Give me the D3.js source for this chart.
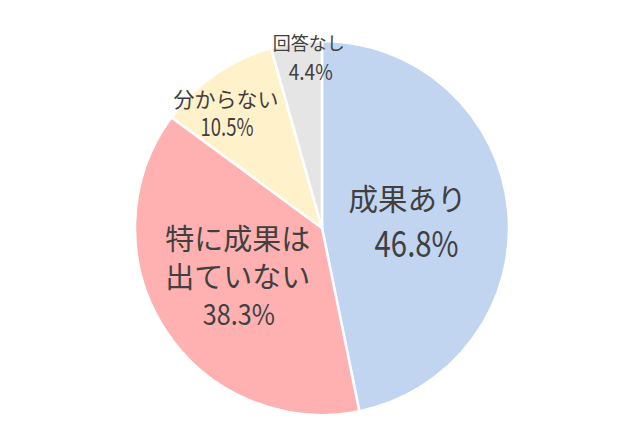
<!DOCTYPE html>
<html><head><meta charset="utf-8">
<script src="https://cdn.jsdelivr.net/npm/d3@7"></script>
<style>html,body{margin:0;padding:0;background:#fff;}svg{display:block;}</style>
</head><body>
<svg id="chart" width="630" height="430"></svg>
<script>
const categories = ["成果あり", "特に成果は出ていない", "分からない", "回答なし"];
const values = [46.8, 38.3, 10.5, 4.4];
const colors = ["#c2d5f0", "#ffb1b1", "#fff2cb", "#e5e5e5"];
const nameLines = [["成果あり"], ["特に成果は", "出ていない"], ["分からない"], ["回答なし"]];
const pctLabels = ["46.8%", "38.3%", "10.5%", "4.4%"];

const W = 630, H = 430, cx = 322, cy = 228, R = 187;
const svg = d3.select("#chart");
const g = svg.append("g").attr("transform", `translate(${cx},${cy})`);
const pie = d3.pie().sort(null).value(d => d)(values);
const arc = d3.arc().innerRadius(0).outerRadius(R);
g.selectAll("path").data(pie).join("path")
  .attr("d", arc).attr("fill", (d, i) => colors[i])
  .attr("stroke", "#fff").attr("stroke-width", 2.5).attr("stroke-linejoin", "round");

// label placement (style): radius fraction, offsets and sizes per slice
const labelStyle = [
  {r: 0.46, dx: 0, dy: 0, fs: 29.5, nfs: 36, nw: 84, lh: 44, ndx: 9},
  {r: 0.515, dx: -3, dy: -5, fs: 29, nfs: 29, nw: 72, lh: 37.5, ndx: 1},
  {r: 0.807, dx: -10, dy: 8, fs: 21, nfs: 24.5, nw: 53, lh: 28, ndx: 1},
  {r: 0.922, dx: 10.5, dy: -1, fs: 18, nfs: 22, nw: 44, lh: 28, ndx: 2}
];
const font = "'Noto Sans CJK JP','Noto Sans',sans-serif";
pie.forEach((d, i) => {
  const st = labelStyle[i];
  const a = (d.startAngle + d.endAngle) / 2;
  const x = Math.sin(a) * R * st.r + st.dx, y = -Math.cos(a) * R * st.r + st.dy;
  const lines = nameLines[i];
  const n = lines.length + 1;
  const t = g.append("g").attr("transform", `translate(${x},${y})`);
  lines.forEach((ln, j) => {
    t.append("text").attr("x", 0).attr("y", (j - (n - 1) / 2) * st.lh)
      .attr("text-anchor", "middle").attr("dominant-baseline", "central")
      .attr("font-family", font).attr("font-size", st.fs).attr("fill", "#404040").text(ln);
  });
  t.append("text").attr("x", st.ndx).attr("y", (n - 1 - (n - 1) / 2) * st.lh)
    .attr("text-anchor", "middle").attr("dominant-baseline", "central")
    .attr("font-family", font).attr("font-size", st.nfs).attr("fill", "#404040")
    .attr("textLength", st.nw).attr("lengthAdjust", "spacingAndGlyphs")
    .text(pctLabels[i]);
});
</script>
</body></html>
